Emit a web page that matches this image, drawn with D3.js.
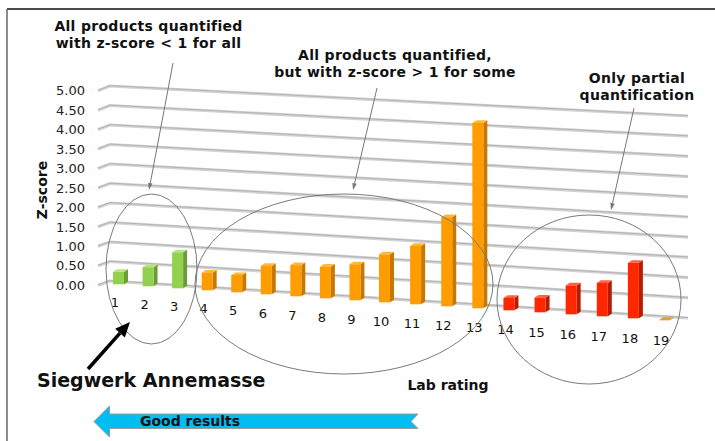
<!DOCTYPE html>
<html>
<head>
<meta charset="utf-8">
<script src="https://cdn.jsdelivr.net/npm/d3@7"></script>
<style>
  body { margin: 0; background: #fff; }
  text { font-family: "DejaVu Sans", Verdana, sans-serif; }
</style>
</head>
<body>
<div id="chart"></div>
<script>
// lab ratings and their z-scores
var labs = ["1","2","3","4","5","6","7","8","9","10","11","12","13","14","15","16","17","18","19"];
var zscores = [0.32, 0.49, 0.92, 0.45, 0.44, 0.72, 0.79, 0.80, 0.91, 1.21, 1.47, 2.24, 4.65, 0.31, 0.37, 0.72, 0.83, 1.38, 0.01];
var groups = ["green","green","green","orange","orange","orange","orange","orange","orange","orange","orange","orange","orange","red","red","red","red","red","amber"];
var yTicks = [0, 0.5, 1, 1.5, 2, 2.5, 3, 3.5, 4, 4.5, 5];

var colors = {
  green:  {front: "#92d050", side: "#6b9c37", top: "#b6e384"},
  orange: {front: "#ff9c00", side: "#c87700", top: "#ffb93a"},
  red:    {front: "#ff2600", side: "#b51c00", top: "#ff6244"},
  amber:  {front: "#d8962c", side: "#b87a1c", top: "#dca040"}
};

var W = 715, H = 441;

var svg = d3.select("#chart").append("svg")
    .attr("width", W)
    .attr("height", H);

svg.append("rect").attr("width", W).attr("height", H).attr("fill", "#fff");

// frame
svg.append("line").attr("x1", 7).attr("y1", 9).attr("x2", W).attr("y2", 9)
    .attr("stroke", "#111").attr("stroke-width", 1.5);
svg.append("line").attr("x1", 7).attr("y1", 9).attr("x2", 7).attr("y2", H)
    .attr("stroke", "#666").attr("stroke-width", 1.5);

// back wall: value scales at the left and right end (perspective)
var yOuter = d3.scaleLinear().domain([0, 5]).range([285.2, 90.7]),
    yLeft  = d3.scaleLinear().domain([0, 5]).range([281, 86]),
    yRight = d3.scaleLinear().domain([0, 5]).range([318, 116]);

var grid = svg.append("g").attr("class", "grid");
yTicks.forEach(function(v) {
  var pts = [[98, yOuter(v)], [110, yLeft(v)], [688, yRight(v)]];
  grid.append("path").attr("d", d3.line()(pts))
      .attr("fill", "none").attr("stroke", "#d3d3d3").attr("stroke-width", 3.2);
  grid.append("path").attr("d", d3.line()(pts.map(function(p) { return [p[0], p[1] - 0.4]; })))
      .attr("fill", "none").attr("stroke", "#b3b3b3").attr("stroke-width", 1);
});

svg.append("g").selectAll("text")
  .data(yTicks)
  .enter().append("text")
    .attr("x", 85)
    .attr("y", function(d) { return yOuter(d) + 4.7; })
    .attr("text-anchor", "end")
    .attr("font-size", 13)
    .attr("fill", "#222")
    .text(d3.format(".2f"));

svg.append("text")
    .attr("transform", "translate(47,190) rotate(-90)")
    .attr("text-anchor", "middle")
    .attr("font-size", 14)
    .attr("font-weight", "bold")
    .attr("fill", "#111")
    .text("Z-score");

// floor: bar position, base line and height per unit depend on index
var idx = d3.range(labs.length);
var xBar = d3.scaleLinear().domain([0, 9, 18]).range([113, 379, 659]);
var yBase = d3.scaleLinear().domain([0, 18]).range([284.3, 320.3]);
var kUnit = d3.scaleLinear().domain([0, 18]).range([39, 40.3]);
var yLabel = d3.scaleLinear().domain([0, 18]).range([307, 345]);

var bw = 11, dx = 4, dy = -2.6;

var bars = svg.append("g").attr("class", "bars").selectAll("g")
  .data(idx)
  .enter().append("g");

bars.each(function(i) {
  var g = d3.select(this),
      c = colors[groups[i]],
      L = xBar(i),
      B = yBase(i),
      T = B - zscores[i] * kUnit(i);
  g.append("path")
      .attr("d", d3.line()([[L + bw, T], [L + bw + dx, T + dy], [L + bw + dx, B + dy], [L + bw, B]]) + "Z")
      .attr("fill", c.side);
  g.append("path")
      .attr("d", d3.line()([[L, T], [L + bw, T], [L + bw + dx, T + dy], [L + dx, T + dy]]) + "Z")
      .attr("fill", c.top);
  g.append("rect")
      .attr("x", L).attr("y", T)
      .attr("width", bw).attr("height", Math.max(0, B - T))
      .attr("fill", c.front);
});

svg.append("g").selectAll("text")
  .data(idx)
  .enter().append("text")
    .attr("x", function(i) { return xBar(i) + 2; })
    .attr("y", function(i) { return yLabel(i); })
    .attr("text-anchor", "middle")
    .attr("font-size", 13)
    .attr("fill", "#111")
    .text(function(i) { return labs[i]; });

svg.append("text")
    .attr("x", 448).attr("y", 390)
    .attr("text-anchor", "middle")
    .attr("font-size", 14).attr("font-weight", "bold").attr("fill", "#111")
    .text("Lab rating");

// annotations
var notes = [
  {x: 148.5, y: 31, lines: ["All products quantified", "with z-score < 1 for all"]},
  {x: 395, y: 60, lines: ["All products quantified,", "but with z-score > 1 for some"]},
  {x: 637, y: 83, lines: ["Only partial", "quantification"]}
];
notes.forEach(function(n) {
  var t = svg.append("text")
      .attr("text-anchor", "middle")
      .attr("font-size", 14).attr("font-weight", "bold").attr("fill", "#111")
      .attr("letter-spacing", 0.3);
  n.lines.forEach(function(l, j) {
    t.append("tspan").attr("x", n.x).attr("y", n.y + j * 17).text(l);
  });
});

var ellipses = [
  {cx: 151.5, cy: 269, rx: 45.5, ry: 75},
  {cx: 344, cy: 284, rx: 149, ry: 90},
  {cx: 589, cy: 299.5, rx: 92, ry: 84.5}
];
svg.append("g").selectAll("ellipse")
  .data(ellipses)
  .enter().append("ellipse")
    .attr("cx", function(d) { return d.cx; })
    .attr("cy", function(d) { return d.cy; })
    .attr("rx", function(d) { return d.rx; })
    .attr("ry", function(d) { return d.ry; })
    .attr("fill", "none")
    .attr("stroke", "#7a7a7a")
    .attr("stroke-width", 1);

function arrow(x1, y1, x2, y2, color, width, headLen, headW) {
  var a = Math.atan2(y2 - y1, x2 - x1),
      bx = x2 - headLen * Math.cos(a),
      by = y2 - headLen * Math.sin(a),
      px = -Math.sin(a) * headW / 2,
      py = Math.cos(a) * headW / 2;
  svg.append("line")
      .attr("x1", x1).attr("y1", y1).attr("x2", bx).attr("y2", by)
      .attr("stroke", color).attr("stroke-width", width);
  svg.append("path")
      .attr("d", "M" + x2 + "," + y2 + "L" + (bx + px) + "," + (by + py) + "L" + (bx - px) + "," + (by - py) + "Z")
      .attr("fill", color);
}

arrow(173, 63, 149, 190, "#777", 1, 7, 4.5);
arrow(377, 88, 353, 190, "#777", 1, 7, 4.5);
arrow(634, 108, 611, 210, "#777", 1, 7, 4.5);
arrow(88, 369, 130, 322, "#000", 3.5, 15, 13);

svg.append("text")
    .attr("x", 37).attr("y", 387)
    .attr("font-size", 19).attr("font-weight", "bold").attr("fill", "#111")
    .text("Siegwerk Annemasse");

// "Good results" arrow
var ga = [[94, 421.5], [109.5, 406], [109.5, 414], [418, 414], [411, 421.5], [418, 428.5], [109.5, 428.5], [109.5, 437]];
svg.append("path")
    .attr("d", d3.line()(ga) + "Z")
    .attr("fill", "#00bdf2")
    .attr("stroke", "#9a9a9a")
    .attr("stroke-width", 1);
svg.append("text")
    .attr("x", 140).attr("y", 426)
    .attr("font-size", 14).attr("font-weight", "bold").attr("fill", "#111")
    .text("Good results");
</script>
</body>
</html>
